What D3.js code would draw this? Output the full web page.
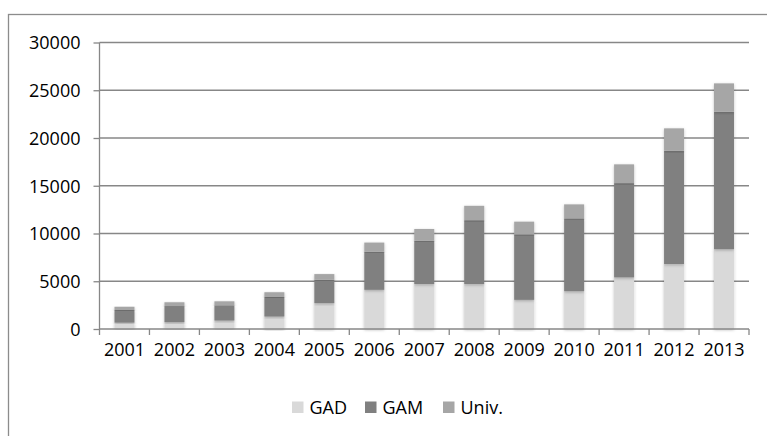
<!DOCTYPE html>
<html>
<head>
<meta charset="utf-8">
<script src="https://cdn.jsdelivr.net/npm/d3@7"></script>
<style>
  body { margin: 0; background: #fff; }
  svg text { font-family: "Open Sans", "Noto Sans", sans-serif; fill: #000; }
</style>
</head>
<body>
<script>
var years = ["2001", "2002", "2003", "2004", "2005", "2006", "2007", "2008", "2009", "2010", "2011", "2012", "2013"];
var gad  = [660, 700, 880, 1300, 2700, 4100, 4700, 4700, 3050, 3950, 5400, 6800, 8350];
var gam  = [1330, 1700, 1600, 2050, 2450, 4000, 4550, 6700, 6870, 7640, 9880, 11870, 14400];
var univ = [340, 400, 420, 500, 600, 950, 1220, 1500, 1320, 1460, 1960, 2340, 2970];
var seriesNames = ["GAD", "GAM", "Univ."];
var colors = ["#d9d9d9", "#808080", "#a6a6a6"];
var yTicks = [0, 5000, 10000, 15000, 20000, 25000, 30000];

var svg = d3.select("body").append("svg")
    .attr("width", 767)
    .attr("height", 436);

// shadow like the spreadsheet bars
var defs = svg.append("defs");
var f = defs.append("filter").attr("id", "shadow")
    .attr("x", "-30%").attr("y", "-10%").attr("width", "160%").attr("height", "120%");
f.append("feDropShadow")
    .attr("dx", 0).attr("dy", 1).attr("stdDeviation", 1.6)
    .attr("flood-color", "#000").attr("flood-opacity", 0.25);

// outer frame (cut off by the window at right/bottom)
svg.append("rect")
    .attr("x", 8.5).attr("y", 14.5)
    .attr("width", 900).attr("height", 600)
    .attr("fill", "none")
    .attr("stroke", "#8c8c8c")
    .attr("stroke-width", 1.3);

var margin = {top: 42.5, left: 99.5, right: 749, bottom: 329};

var x = d3.scaleBand().domain(years).range([margin.left, margin.right]).paddingInner(0).paddingOuter(0);
var y = d3.scaleLinear().domain([0, 30000]).range([margin.bottom, margin.top]);

// grid lines
svg.append("g")
    .selectAll("line")
    .data(yTicks.slice(1))
    .enter().append("line")
      .attr("x1", margin.left).attr("x2", margin.right)
      .attr("y1", function(d) { return y(d); })
      .attr("y2", function(d) { return y(d); })
      .attr("stroke", "#878787")
      .attr("stroke-width", 1.3);

var table = years.map(function(yr, i) {
  return {year: yr, GAD: gad[i], GAM: gam[i], "Univ.": univ[i]};
});
var stack = d3.stack().keys(seriesNames)(table);

var barW = 20;
svg.append("g").selectAll("g")
    .data(stack)
    .enter().append("g")
      .attr("fill", function(d, i) { return colors[i]; })
    .selectAll("rect")
    .data(function(d) { return d; })
    .enter().append("rect")
      .attr("x", function(d) { return x(d.data.year) + x.bandwidth() / 2 - barW / 2; })
      .attr("y", function(d) { return y(d[1]); })
      .attr("width", barW)
      .attr("height", function(d) { return y(d[0]) - y(d[1]); })
      .attr("filter", "url(#shadow)");

// y axis
var yAxis = svg.append("g")
    .attr("transform", "translate(" + margin.left + ",0)")
    .call(d3.axisLeft(y).tickValues(yTicks).tickSize(6).tickPadding(13).tickFormat(d3.format("d")));
yAxis.select(".domain").attr("stroke", "#878787").attr("stroke-width", 1.3)
    .attr("d", "M0," + margin.top + "V" + margin.bottom);
yAxis.selectAll(".tick line").attr("stroke", "#878787").attr("stroke-width", 1.3);
yAxis.selectAll(".tick text").style("font-size", "18px").attr("dy", "0.36em");

// x axis
var xAxis = svg.append("g")
    .attr("transform", "translate(0," + margin.bottom + ")")
    .call(d3.axisBottom(x).tickSize(0).tickPadding(14));
xAxis.select(".domain").attr("stroke", "#878787").attr("stroke-width", 1.3)
    .attr("d", "M" + margin.left + ",0H" + margin.right);
xAxis.selectAll(".tick text").style("font-size", "18px");
xAxis.append("g").selectAll("line")
    .data(d3.range(years.length + 1))
    .enter().append("line")
      .attr("x1", function(i) { return margin.left + i * x.step(); })
      .attr("x2", function(i) { return margin.left + i * x.step(); })
      .attr("y1", 0).attr("y2", 6)
      .attr("stroke", "#878787").attr("stroke-width", 1.3);

// legend
var legendX = [292, 365, 443];
var legend = svg.append("g").selectAll("g")
    .data(seriesNames)
    .enter().append("g")
      .attr("transform", function(d, i) { return "translate(" + legendX[i] + ",401.5)"; });
legend.append("rect")
    .attr("width", 11.5).attr("height", 11.5)
    .attr("fill", function(d, i) { return colors[i]; });
legend.append("text")
    .attr("x", 17.5).attr("y", 12.5)
    .style("font-size", "18px")
    .text(function(d) { return d; });
</script>
</body>
</html>
